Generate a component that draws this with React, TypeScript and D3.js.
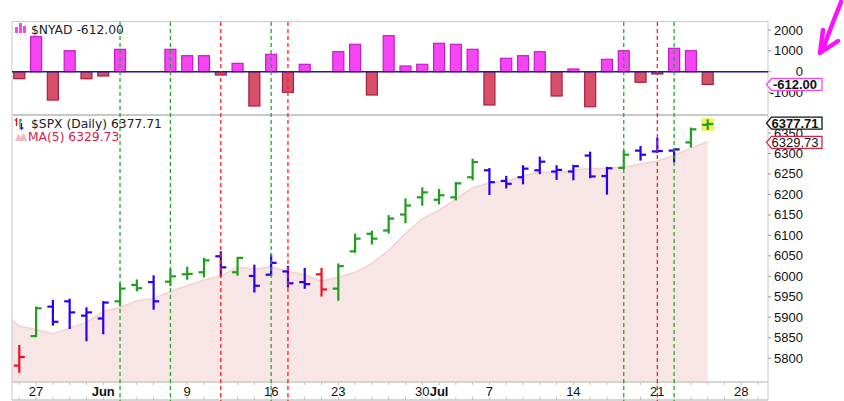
import { useMemo } from 'react';
import * as d3 from 'd3';

// trading days shown on the chart
const DATES = [
  'May 23', 'May 27', 'May 28', 'May 29', 'May 30',
  'Jun 2', 'Jun 3', 'Jun 4', 'Jun 5', 'Jun 6',
  'Jun 9', 'Jun 10', 'Jun 11', 'Jun 12', 'Jun 13',
  'Jun 16', 'Jun 17', 'Jun 18', 'Jun 20',
  'Jun 23', 'Jun 24', 'Jun 25', 'Jun 26', 'Jun 27',
  'Jun 30', 'Jul 1', 'Jul 2', 'Jul 3',
  'Jul 7', 'Jul 8', 'Jul 9', 'Jul 10', 'Jul 11',
  'Jul 14', 'Jul 15', 'Jul 16', 'Jul 17', 'Jul 18',
  'Jul 21', 'Jul 22', 'Jul 23', 'Jul 24',
];
// empty days at the right end of the time axis
const AXIS_EXTRA = ['Jul 25', 'Jul 28', 'Jul 29'];

const OPEN = [
  5782, 5854, 5926, 5939, 5904, 5897, 5939, 5979, 5986, 5987,
  6005, 6010, 6049, 6010, 6001, 6004, 6012, 5986, 6005, 5970,
  6061, 6104, 6112, 6151, 6193, 6187, 6193, 6242, 6259, 6233,
  6242, 6259, 6256, 6256, 6295, 6245, 6265, 6307, 6305, 6307,
  6327, 6370,
];
const HIGH = [
  5830, 5924, 5940, 5943, 5922, 5937, 5981, 5990, 6000, 6017,
  6021, 6043, 6059, 6045, 6026, 6051, 6023, 6018, 6018, 6029,
  6102, 6109, 6147, 6188, 6215, 6211, 6228, 6285, 6262, 6243,
  6269, 6290, 6269, 6270, 6302, 6265, 6305, 6316, 6336, 6310,
  6361, 6381,
];
const LOW = [
  5767, 5854, 5882, 5874, 5844, 5861, 5929, 5966, 5921, 5979,
  5994, 6000, 6002, 6004, 5963, 6004, 5975, 5972, 5953, 5943,
  6060, 6080, 6107, 6132, 6175, 6178, 6188, 6237, 6201, 6217,
  6227, 6252, 6238, 6237, 6242, 6202, 6264, 6285, 6304, 6281,
  6317, 6360,
];
const CLOSE = [
  5803, 5922, 5889, 5912, 5912, 5936, 5970, 5971, 5939, 6000,
  6006, 6039, 6022, 6045, 5977, 6033, 5983, 5981, 5968, 6025,
  6092, 6092, 6141, 6173, 6205, 6198, 6227, 6279, 6230, 6226,
  6263, 6280, 6260, 6269, 6244, 6264, 6297, 6297, 6306, 6310,
  6359, 6372,
];
// impulse state per bar: up / dn / nt (neutral)
const IMPULSE = [
  'dn', 'up', 'nt', 'nt', 'nt', 'nt', 'up', 'up', 'nt', 'up',
  'up', 'up', 'nt', 'up', 'nt', 'nt', 'nt', 'nt', 'dn', 'up',
  'up', 'up', 'up', 'up', 'up', 'up', 'up', 'up', 'nt', 'nt',
  'nt', 'nt', 'nt', 'nt', 'nt', 'nt', 'up', 'nt', 'nt', 'nt',
  'up', 'up',
];
// closes before the first bar, needed for the 5-day average
const PRIOR_CLOSES = [5958, 5964, 5940, 5845, 5842];

const NYAD = [
  -333, 1680, -1360, 1007, -336, -206, 1074, null, null, 1074,
  767, 767, -160, 400, -1645, 834, -988, 355, null, 959,
  1314, -1118, 1727, 273, 355, 1362, 1314, 1074, -1597, 642,
  767, 959, -1166, 130, -1679, 595, 1007, -508, -110, 1122,
  1007, -612,
];

const BUY_SIGNALS = ['Jun 3', 'Jun 6', 'Jun 16', 'Jul 17', 'Jul 22'];
const SELL_SIGNALS = ['Jun 11', 'Jun 17', 'Jul 21'];

const SPX_LAST = 6377.71;
const MA_LAST = 6329.73;
const NYAD_LAST = -612.0;

const PRICE_TICKS = [5800, 5850, 5900, 5950, 6000, 6050, 6100, 6150, 6200, 6250, 6300, 6350];
const NYAD_TICKS = [2000, 1000, 0, -1000];
const X_LABELS = [
  { date: 'May 27', text: '27', bold: false },
  { date: 'Jun 2', text: 'Jun', bold: true },
  { date: 'Jun 9', text: '9', bold: false },
  { date: 'Jun 16', text: '16', bold: false },
  { date: 'Jun 23', text: '23', bold: false },
  { date: 'Jun 30', text: '30', bold: false },
  { date: 'Jul 1', text: 'Jul', bold: true },
  { date: 'Jul 7', text: '7', bold: false },
  { date: 'Jul 14', text: '14', bold: false },
  { date: 'Jul 21', text: '21', bold: false },
  { date: 'Jul 28', text: '28', bold: false },
];

const W = 844;
const H = 401;
const X0 = 12;
const X1 = 768;
const TOP0 = 22;
const TOP1 = 115;
const BOT0 = 115;
const BOT1 = 382;
const AXIS_BOTTOM = 400;

const IMPULSE_COLORS: Record<string, string> = {
  up: '#1f9e1f',
  dn: '#ee1126',
  nt: '#2a00ee',
};

const HEAD_FONT = '"DejaVu Sans", Verdana, sans-serif';
const AXIS_FONT = '"Liberation Sans", Arial, sans-serif';

export default function App() {
  const allDays = useMemo(() => [...DATES, ...AXIS_EXTRA], []);
  const idx = (d: string) => allDays.indexOf(d);

  const x = d3.scaleLinear().domain([0, DATES.length - 1]).range([19.3, 707.7]);
  const yN = d3.scaleLinear().domain([-2029, 2384]).range([114, 22]);
  const yP = d3.scaleLinear().domain([5742, 6394]).range([BOT1, BOT0]);

  // 5-day moving average, starting one day before the first bar
  const ma = useMemo(() => {
    const closes = [...PRIOR_CLOSES, ...CLOSE];
    const out: { i: number; v: number }[] = [];
    for (let k = 4; k < closes.length; k++) {
      const v = d3.mean(closes.slice(k - 4, k + 1)) as number;
      out.push({ i: k - PRIOR_CLOSES.length, v });
    }
    return out;
  }, []);

  const maArea = d3
    .area<{ i: number; v: number }>()
    .x((d) => x(d.i))
    .y0(BOT1)
    .y1((d) => yP(d.v))(ma) as string;
  const maLine = d3
    .line<{ i: number; v: number }>()
    .x((d) => x(d.i))
    .y((d) => yP(d.v))(ma) as string;

  const tick = 5.5;
  const barW = 11;
  const lastX = x(DATES.length - 1);

  const tag = (
    y: number,
    text: string,
    stroke: string,
    bold: boolean
  ) => {
    const l = 766.5;
    const r = 822;
    const h = 6;
    return (
      <g key={text}>
        <path
          d={`M${l},${y} L${l + 5},${y - h} L${r},${y - h} L${r},${y + h} L${l + 5},${y + h} Z`}
          fill="#fff"
          stroke={stroke}
          strokeWidth={1.3}
        />
        <text
          x={795}
          y={y + 4.5}
          textAnchor="middle"
          fontSize={13}
          fontWeight={bold ? 'bold' : 'normal'}
          fill="#111"
          fontFamily={AXIS_FONT}
        >
          {text}
        </text>
      </g>
    );
  };

  return (
    <svg
      width={W}
      height={H}
      style={{ position: 'fixed', left: 0, top: 0, background: '#fff' }}
    >
      <defs>
        <clipPath id="plot">
          <rect x={X0} y={BOT0} width={X1 - X0} height={BOT1 - BOT0} />
        </clipPath>
      </defs>

      {/* MA(5) shaded area */}
      <g clipPath="url(#plot)">
        <path d={maArea} fill="#f8e5e5" />
        <path d={maLine} fill="none" stroke="#f2d2d2" strokeWidth={1.5} />
      </g>

      {/* frames */}
      <g stroke="#c8c8c8" fill="none">
        <line x1={X0} x2={X1} y1={TOP0 - 0.5} y2={TOP0 - 0.5} />
        <line x1={X0} x2={X1} y1={TOP1} y2={TOP1} strokeWidth={2} />
        <line x1={X0} x2={X1} y1={BOT1} y2={BOT1} strokeWidth={1.5} />
        <line x1={X0} x2={X1} y1={AXIS_BOTTOM} y2={AXIS_BOTTOM} strokeWidth={1.5} />
        <line x1={X0} x2={X0} y1={TOP0 - 0.5} y2={AXIS_BOTTOM} />
        <line x1={X1} x2={X1} y1={TOP0 - 0.5} y2={AXIS_BOTTOM} />
      </g>

      {/* day ticks on the time axis */}
      <g stroke="#c0c0c0">
        {allDays.map((d, i) => (
          <g key={d}>
            <line x1={x(i)} x2={x(i)} y1={BOT1} y2={BOT1 + 3} />
            <line x1={x(i)} x2={x(i)} y1={AXIS_BOTTOM - 3} y2={AXIS_BOTTOM} />
          </g>
        ))}
      </g>

      {/* NYAD histogram */}
      <g>
        {NYAD.map((v, i) =>
          v === null ? null : (
            <rect
              key={i}
              x={x(i) - barW / 2}
              y={Math.min(yN(v), yN(0))}
              width={barW}
              height={Math.abs(yN(v) - yN(0))}
              fill={v >= 0 ? '#f545f5' : '#d6506a'}
              stroke={v >= 0 ? '#c21fc2' : '#a91f3e'}
              strokeWidth={1.2}
            />
          )
        )}
        <line x1={X0} x2={X1} y1={yN(0)} y2={yN(0)} stroke="#1c1c9c" strokeWidth={1.6} />
      </g>

      {/* OHLC bars */}
      <g strokeWidth={2.2} strokeLinecap="butt">
        <rect
          x={lastX - 6.5}
          y={yP(HIGH[DATES.length - 1]) - 2}
          width={13}
          height={12.5}
          fill="#f2f25a"
        />
        {DATES.map((d, i) => {
          const cx = x(i);
          const c = IMPULSE_COLORS[IMPULSE[i]];
          return (
            <g key={d} stroke={c}>
              <line x1={cx} x2={cx} y1={yP(HIGH[i]) - 1} y2={yP(LOW[i]) + 1} />
              <line x1={cx - tick} x2={cx} y1={yP(OPEN[i])} y2={yP(OPEN[i])} />
              <line x1={cx} x2={cx + tick} y1={yP(CLOSE[i])} y2={yP(CLOSE[i])} />
            </g>
          );
        })}
      </g>

      {/* signal lines */}
      <g strokeWidth={1.3} strokeDasharray="4,3">
        {BUY_SIGNALS.map((d) => (
          <line key={d} x1={x(idx(d))} x2={x(idx(d))} y1={TOP0} y2={H} stroke="#22aa22" />
        ))}
        {SELL_SIGNALS.map((d) => (
          <line key={d} x1={x(idx(d))} x2={x(idx(d))} y1={TOP0} y2={H} stroke="#ff2020" />
        ))}
      </g>

      {/* time axis labels */}
      <g fontFamily={AXIS_FONT} fontSize={13} fill="#111" textAnchor="middle">
        {X_LABELS.map((l) => (
          <text key={l.date} x={x(idx(l.date))} y={396} fontWeight={l.bold ? 'bold' : 'normal'}>
            {l.text}
          </text>
        ))}
      </g>

      {/* right axes */}
      <g fontFamily={AXIS_FONT} fontSize={13} fill="#111" textAnchor="end">
        {NYAD_TICKS.map((t) => (
          <g key={t}>
            <line x1={X1} x2={X1 + 3} y1={yN(t)} y2={yN(t)} stroke="#999" />
            <text x={803} y={yN(t) + 4.5}>
              {t}
            </text>
          </g>
        ))}
        {PRICE_TICKS.map((t) => (
          <g key={t}>
            <line x1={X1} x2={X1 + 3} y1={yP(t)} y2={yP(t)} stroke="#999" />
            <text x={803} y={yP(t) + 4.5}>
              {t}
            </text>
          </g>
        ))}
      </g>

      {/* last value tags */}
      {tag(yN(NYAD_LAST), NYAD_LAST.toFixed(2), '#f545f5', true)}
      {tag(yP(SPX_LAST) + 1.5, SPX_LAST.toFixed(2), '#111', true)}
      {tag(yP(MA_LAST) + 1, MA_LAST.toFixed(2), '#d6204a', false)}

      {/* panel headers */}
      <g>
        <rect x={15} y={27} width={3} height={6} fill="#f545f5" />
        <rect x={19} y={23} width={3} height={10} fill="#f545f5" />
        <rect x={23} y={26} width={3} height={7} fill="#f545f5" />
        <text x={31} y={34} fontFamily={HEAD_FONT} fontSize={12.3} fill="#222">
          $NYAD {NYAD_LAST.toFixed(2)}
        </text>

        <g strokeWidth={1.3}>
          <line x1={16.5} x2={16.5} y1={118} y2={126} stroke="#ee1126" />
          <line x1={14.5} x2={16.5} y1={120} y2={120} stroke="#ee1126" />
          <line x1={20} x2={20} y1={119} y2={127} stroke="#1f9e1f" />
          <line x1={20} x2={22} y1={120} y2={120} stroke="#1f9e1f" />
          <line x1={21.5} x2={21.5} y1={123} y2={130} stroke="#2a00ee" />
          <line x1={19.5} x2={23.5} y1={128} y2={128} stroke="#2a00ee" />
        </g>
        <text x={31} y={128} fontFamily={HEAD_FONT} fontSize={12.3} fill="#222">
          $SPX (Daily) {SPX_LAST.toFixed(2)}
        </text>

        <path d="M15,141 L18,134 L21,137 L24,133 L27,141 Z" fill="#f2b8c0" />
        <text x={28} y={141} fontFamily={HEAD_FONT} fontSize={12.3} fill="#d6204a">
          MA(5) {MA_LAST.toFixed(2)}
        </text>
      </g>

      {/* hand-drawn pointer */}
      <g stroke="#ff10ff" strokeWidth={4.5} fill="none" strokeLinecap="round" strokeLinejoin="round">
        <path d="M841,2 Q833,22 824,46" />
        <path d="M823,30 L820,53 L838,41" />
      </g>
    </svg>
  );
}
